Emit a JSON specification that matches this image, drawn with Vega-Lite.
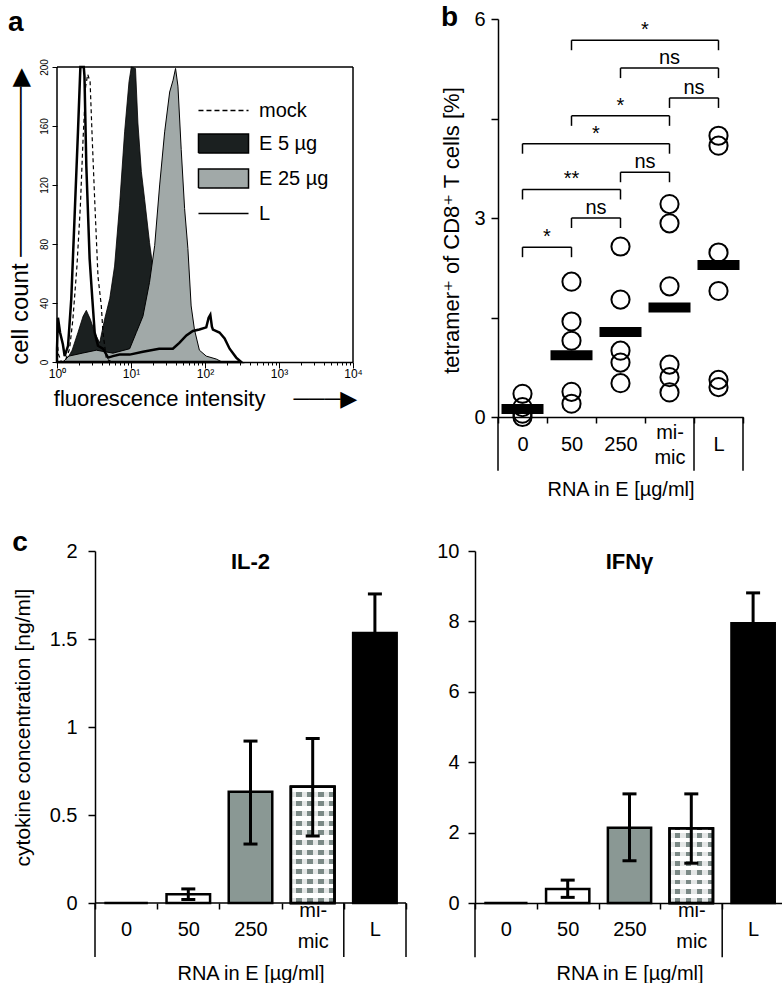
{
"$schema": "https://vega.github.io/schema/vega-lite/v6.json",
"background": "white",
"padding": {"left": 8, "top": 4, "right": 0, "bottom": 0},
"config": {
  "font": "Liberation Sans",
  "view": {"stroke": null},
  "axis": {"grid": false, "domainColor": "black", "tickColor": "black", "labelColor": "black", "titleColor": "black", "domainWidth": 1.5, "tickWidth": 1.5, "titleFontWeight": "normal", "labelFont": "Liberation Sans", "titleFont": "Liberation Sans, DejaVu Sans"},
  "title": {"color": "black", "font": "Liberation Sans"}
},
"datasets": {
  "hist": [
    {"s": "E 5 µg", "v": 1.3, "c": 0}, {"s": "E 5 µg", "v": 1.6, "c": 8}, {"s": "E 5 µg", "v": 1.92, "c": 20}, {"s": "E 5 µg", "v": 2.25, "c": 31}, {"s": "E 5 µg", "v": 2.49, "c": 35}, {"s": "E 5 µg", "v": 2.82, "c": 29}, {"s": "E 5 µg", "v": 3.23, "c": 20}, {"s": "E 5 µg", "v": 3.77, "c": 13}, {"s": "E 5 µg", "v": 4.4, "c": 29}, {"s": "E 5 µg", "v": 5.16, "c": 43}, {"s": "E 5 µg", "v": 6.0, "c": 65}, {"s": "E 5 µg", "v": 7.0, "c": 106}, {"s": "E 5 µg", "v": 8.2, "c": 156}, {"s": "E 5 µg", "v": 9.4, "c": 190}, {"s": "E 5 µg", "v": 10.1, "c": 200}, {"s": "E 5 µg", "v": 11.5, "c": 199}, {"s": "E 5 µg", "v": 12.4, "c": 162}, {"s": "E 5 µg", "v": 13.8, "c": 129}, {"s": "E 5 µg", "v": 15.3, "c": 110}, {"s": "E 5 µg", "v": 17.8, "c": 81}, {"s": "E 5 µg", "v": 20, "c": 62}, {"s": "E 5 µg", "v": 24, "c": 35}, {"s": "E 5 µg", "v": 28, "c": 15}, {"s": "E 5 µg", "v": 33, "c": 4}, {"s": "E 5 µg", "v": 38, "c": 0},
    {"s": "E 25 µg", "v": 1.2, "c": 0}, {"s": "E 25 µg", "v": 1.45, "c": 4}, {"s": "E 25 µg", "v": 2.2, "c": 6}, {"s": "E 25 µg", "v": 3.4, "c": 8}, {"s": "E 25 µg", "v": 5.7, "c": 6}, {"s": "E 25 µg", "v": 9.6, "c": 9}, {"s": "E 25 µg", "v": 11.8, "c": 20}, {"s": "E 25 µg", "v": 14.5, "c": 31}, {"s": "E 25 µg", "v": 17.8, "c": 54}, {"s": "E 25 µg", "v": 20.9, "c": 79}, {"s": "E 25 µg", "v": 24.4, "c": 120}, {"s": "E 25 µg", "v": 28.5, "c": 156}, {"s": "E 25 µg", "v": 33.3, "c": 183}, {"s": "E 25 µg", "v": 37, "c": 191}, {"s": "E 25 µg", "v": 40, "c": 199}, {"s": "E 25 µg", "v": 43.1, "c": 187}, {"s": "E 25 µg", "v": 47.7, "c": 144}, {"s": "E 25 µg", "v": 53, "c": 104}, {"s": "E 25 µg", "v": 58.7, "c": 77}, {"s": "E 25 µg", "v": 65, "c": 38}, {"s": "E 25 µg", "v": 72, "c": 22}, {"s": "E 25 µg", "v": 84, "c": 8}, {"s": "E 25 µg", "v": 104, "c": 4}, {"s": "E 25 µg", "v": 142, "c": 2}, {"s": "E 25 µg", "v": 170, "c": 0},
    {"s": "mock", "v": 1, "c": 15}, {"s": "mock", "v": 1.05, "c": 5}, {"s": "mock", "v": 1.15, "c": 0}, {"s": "mock", "v": 1.3, "c": 1}, {"s": "mock", "v": 1.48, "c": 9}, {"s": "mock", "v": 1.64, "c": 29}, {"s": "mock", "v": 1.86, "c": 65}, {"s": "mock", "v": 2.07, "c": 106}, {"s": "mock", "v": 2.25, "c": 151}, {"s": "mock", "v": 2.44, "c": 187}, {"s": "mock", "v": 2.6, "c": 195}, {"s": "mock", "v": 2.8, "c": 190}, {"s": "mock", "v": 3.0, "c": 150}, {"s": "mock", "v": 3.23, "c": 110}, {"s": "mock", "v": 3.58, "c": 58}, {"s": "mock", "v": 3.97, "c": 38}, {"s": "mock", "v": 4.18, "c": 20}, {"s": "mock", "v": 4.65, "c": 2}, {"s": "mock", "v": 5.5, "c": 0},
    {"s": "L", "v": 1, "c": 9}, {"s": "L", "v": 1.03, "c": 30}, {"s": "L", "v": 1.1, "c": 20}, {"s": "L", "v": 1.2, "c": 12}, {"s": "L", "v": 1.27, "c": 4}, {"s": "L", "v": 1.41, "c": 11}, {"s": "L", "v": 1.56, "c": 43}, {"s": "L", "v": 1.73, "c": 99}, {"s": "L", "v": 1.92, "c": 156}, {"s": "L", "v": 2.07, "c": 200}, {"s": "L", "v": 2.3, "c": 200}, {"s": "L", "v": 2.35, "c": 194}, {"s": "L", "v": 2.49, "c": 133}, {"s": "L", "v": 2.76, "c": 70}, {"s": "L", "v": 3.0, "c": 43}, {"s": "L", "v": 3.23, "c": 20}, {"s": "L", "v": 3.58, "c": 11}, {"s": "L", "v": 4.18, "c": 9}, {"s": "L", "v": 4.9, "c": 3}, {"s": "L", "v": 5.7, "c": 4}, {"s": "L", "v": 7, "c": 5}, {"s": "L", "v": 9.6, "c": 5}, {"s": "L", "v": 14.5, "c": 7}, {"s": "L", "v": 24, "c": 9}, {"s": "L", "v": 36.8, "c": 9}, {"s": "L", "v": 45, "c": 13}, {"s": "L", "v": 56, "c": 18}, {"s": "L", "v": 68.6, "c": 21}, {"s": "L", "v": 84, "c": 22}, {"s": "L", "v": 104, "c": 23.5}, {"s": "L", "v": 112, "c": 30}, {"s": "L", "v": 118, "c": 32}, {"s": "L", "v": 124, "c": 24}, {"s": "L", "v": 128, "c": 22}, {"s": "L", "v": 157, "c": 20}, {"s": "L", "v": 184, "c": 16}, {"s": "L", "v": 215, "c": 9}, {"s": "L", "v": 264, "c": 3}, {"s": "L", "v": 309, "c": 0}
  ],
  "pts": [
    {"g": "0", "v": 0.35}, {"g": "0", "v": 0.15}, {"g": "0", "v": 0.05}, {"g": "0", "v": 0.0},
    {"g": "50", "v": 2.04}, {"g": "50", "v": 1.44}, {"g": "50", "v": 1.15}, {"g": "50", "v": 0.38}, {"g": "50", "v": 0.2},
    {"g": "250", "v": 2.57}, {"g": "250", "v": 1.77}, {"g": "250", "v": 1.0}, {"g": "250", "v": 0.82}, {"g": "250", "v": 0.51},
    {"g": "mimic", "v": 3.21}, {"g": "mimic", "v": 2.92}, {"g": "mimic", "v": 1.97}, {"g": "mimic", "v": 0.79}, {"g": "mimic", "v": 0.6}, {"g": "mimic", "v": 0.37},
    {"g": "L", "v": 4.24}, {"g": "L", "v": 4.09}, {"g": "L", "v": 2.48}, {"g": "L", "v": 1.9}, {"g": "L", "v": 0.56}, {"g": "L", "v": 0.45}
  ],
  "means": [
    {"g": "0", "v": 0.12}, {"g": "50", "v": 0.93}, {"g": "250", "v": 1.28}, {"g": "mimic", "v": 1.65}, {"g": "L", "v": 2.29}
  ],
  "brk": [
    {"from": "0", "to": "50", "level": 2.56, "label": "*", "mid": "50", "edge": true},
    {"from": "50", "to": "250", "level": 3.0, "label": "ns", "mid": "250", "edge": true},
    {"from": "0", "to": "250", "level": 3.43, "label": "**", "mid": "50", "edge": false},
    {"from": "250", "to": "mimic", "level": 3.69, "label": "ns", "mid": "mimic", "edge": true},
    {"from": "0", "to": "mimic", "level": 4.12, "label": "*", "mid": "250", "edge": true},
    {"from": "50", "to": "mimic", "level": 4.54, "label": "*", "mid": "250", "edge": false},
    {"from": "mimic", "to": "L", "level": 4.81, "label": "ns", "mid": "L", "edge": true},
    {"from": "250", "to": "L", "level": 5.26, "label": "ns", "mid": "mimic", "edge": false},
    {"from": "50", "to": "L", "level": 5.68, "label": "*", "mid": "mimic", "edge": true}
  ],
  "seps": [
    {"g": "0", "edge": "start"}, {"g": "L", "edge": "start"}, {"g": "L", "edge": "end"}
  ],
  "base": [
    {"a": "0", "b": "L"}
  ],
  "cyto": [
    {"p": "IL-2", "g": "0", "v": 0, "lo": 0, "hi": 0},
    {"p": "IL-2", "g": "50", "v": 0.05, "lo": 0.02, "hi": 0.08},
    {"p": "IL-2", "g": "250", "v": 0.632, "lo": 0.335, "hi": 0.92},
    {"p": "IL-2", "g": "mimic", "v": 0.66, "lo": 0.38, "hi": 0.935},
    {"p": "IL-2", "g": "L", "v": 1.534, "lo": 1.31, "hi": 1.756},
    {"p": "IFNγ", "g": "0", "v": 0, "lo": 0, "hi": 0},
    {"p": "IFNγ", "g": "50", "v": 0.4, "lo": 0.16, "hi": 0.65},
    {"p": "IFNγ", "g": "250", "v": 2.14, "lo": 1.2, "hi": 3.1},
    {"p": "IFNγ", "g": "mimic", "v": 2.12, "lo": 1.13, "hi": 3.1},
    {"p": "IFNγ", "g": "L", "v": 7.95, "lo": 7.1, "hi": 8.81}
  ]
},
"resolve": {"scale": {"fill": "independent"}},
"spacing": 30,
"vconcat": [
  {
    "spacing": 77,
    "resolve": {"scale": {"fill": "independent"}},
    "hconcat": [
      {
        "width": 296, "height": 343,
        "title": {"text": "a", "anchor": "start", "frame": "bounds", "fontSize": 28, "fontWeight": "bold", "offset": -18},
        "layer": [
          {
            "data": {"name": "hist"},
            "encoding": {
              "x": {"field": "v", "type": "quantitative", "scale": {"type": "log", "domain": [1, 10000]},
                "axis": {"values": [1,2,3,4,5,6,7,8,9,10,20,30,40,50,60,70,80,90,100,200,300,400,500,600,700,800,900,1000,2000,3000,4000,5000,6000,7000,8000,9000,10000],
                  "labelExpr": "datum.value == 1 ? '10⁰' : datum.value == 10 ? '10¹' : datum.value == 100 ? '10²' : datum.value == 1000 ? '10³' : datum.value == 10000 ? '10⁴' : ''",
                  "labelFontSize": 12, "labelPadding": 0, "labelFlush": false, "labelOverlap": false, "labelBound": false,
                  "tickSize": {"condition": {"test": "indexof([1,10,100,1000,10000], datum.value) >= 0", "value": 6}, "value": 3},
                  "domain": true, "tickWidth": 1,
                  "title": "fluorescence intensity\u2003 ───▶", "titleFontSize": 22, "titlePadding": 9}},
              "y": {"field": "c", "type": "quantitative", "scale": {"domain": [0, 232.5], "nice": false},
                "axis": {"values": [0,10,20,30,40,50,60,70,80,90,100,110,120,130,140,150,160,170,180,190,200],
                  "labelExpr": "datum.value % 40 == 0 ? datum.label : ''",
                  "labelAngle": 270, "labelAlign": "center", "labelBaseline": "bottom", "labelFontSize": 10, "labelPadding": 3,
                  "tickSize": {"condition": {"test": "datum.value % 40 == 0", "value": 5}, "value": 3},
                  "domain": false, "tickWidth": 1,
                  "title": "cell count ──────────▶", "titleFontSize": 24, "titlePadding": 7, "titleY": 197}},
              "fill": {"field": "s", "type": "nominal",
                "scale": {"domain": ["mock", "E 5 µg", "E 25 µg", "L"], "range": ["transparent", "#1b2020", "#a1a9a8", "transparent"]},
                "legend": {"title": null, "orient": "none", "legendX": 148, "legendY": 73, "padding": 0, "symbolSize": 1225, "labelFontSize": 20, "labelOffset": 17, "rowPadding": 4, "labelColor": "black", "labelFont": "Liberation Sans", "symbolStrokeColor": "black", "symbolStrokeWidth": 1.5,
                  "encode": {"symbols": {"update": {"shape": {"signal": "datum.value == 'mock' || datum.value == 'L' ? 'M-1.43,0H1.43' : 'M-1.43,-0.54H1.43V0.54H-1.43Z'"}, "stroke": {"value": "black"}, "strokeWidth": {"value": 1.5}, "strokeDash": {"signal": "datum.value == 'mock' ? [5, 3] : [1, 0]"}}}}}}
            },
            "layer": [
              {"transform": [{"filter": "datum.s == 'E 5 µg'"}], "mark": {"type": "area", "stroke": "black", "strokeWidth": 0.8, "fillOpacity": 1}},
              {"transform": [{"filter": "datum.s == 'E 25 µg'"}], "mark": {"type": "area", "stroke": "black", "strokeWidth": 1, "fillOpacity": 1}},
              {"transform": [{"filter": "datum.s == 'mock'"}], "mark": {"type": "area", "stroke": "black", "strokeWidth": 1.2, "strokeDash": [4, 3]}},
              {"transform": [{"filter": "datum.s == 'L'"}], "mark": {"type": "area", "stroke": "black", "strokeWidth": 2.5}}
            ]
          },
          {
            "data": {"values": [{}]},
            "mark": {"type": "rule", "color": "black", "strokeWidth": 1.5},
            "encoding": {
              "x": {"datum": 1, "type": "quantitative", "scale": {"type": "log", "domain": [1, 10000]}},
              "x2": {"datum": 10000},
              "y": {"datum": 200, "type": "quantitative", "scale": {"domain": [0, 232.5], "nice": false}}
            }
          },
          {
            "data": {"values": [{}]},
            "mark": {"type": "rule", "color": "black", "strokeWidth": 1.5},
            "encoding": {
              "x": {"datum": 1, "type": "quantitative", "scale": {"type": "log", "domain": [1, 10000]}},
              "y": {"datum": 0, "type": "quantitative", "scale": {"domain": [0, 232.5], "nice": false}},
              "y2": {"datum": 200}
            }
          },
          {
            "data": {"values": [{}]},
            "mark": {"type": "rule", "color": "black", "strokeWidth": 1.5},
            "encoding": {
              "x": {"datum": 10000, "type": "quantitative", "scale": {"type": "log", "domain": [1, 10000]}},
              "y": {"datum": 0, "type": "quantitative", "scale": {"domain": [0, 232.5], "nice": false}},
              "y2": {"datum": 200}
            }
          }
        ]
      },
      {
        "width": 245, "height": 398,
        "title": {"text": "b", "anchor": "start", "frame": "bounds", "fontSize": 28, "fontWeight": "bold", "offset": -23},
        "layer": [
          {
            "data": {"name": "pts"},
            "mark": {"type": "point", "filled": false, "stroke": "black", "strokeWidth": 2, "size": 330, "opacity": 1},
            "encoding": {
              "x": {"field": "g", "type": "nominal", "scale": {"domain": ["0", "50", "250", "mimic", "L"], "paddingInner": 0, "paddingOuter": 0},
                "axis": {"title": "RNA in E [µg/ml]", "titleFontSize": 20, "titlePadding": 12, "labelFontSize": 20, "labelAngle": 0, "labelOverlap": false,
                  "labelExpr": "datum.value == 'mimic' ? ['mi-', 'mic'] : datum.value", "labelBaseline": "middle",
                  "labelPadding": {"condition": {"test": "datum.value == 'mimic'", "value": 9}, "value": 21}, "labelLineHeight": 25,
                  "tickBand": "extent", "tickSize": 6}},
              "y": {"field": "v", "type": "quantitative", "scale": {"domain": [0, 6], "nice": false},
                "axis": {"values": [0, 1.5, 3, 4.5, 6], "format": "~g", "labelExpr": "datum.value % 3 == 0 ? datum.label : ''",
                  "title": "tetramer⁺ of CD8⁺ T cells [%]", "titleFontSize": 22, "titlePadding": 10, "titleY": 211, "labelFontSize": 20, "labelPadding": 6, "tickSize": 7}}
            }
          },
          {
            "data": {"name": "means"},
            "mark": {"type": "tick", "color": "black", "size": 42, "thickness": 10, "opacity": 1},
            "encoding": {
              "x": {"field": "g", "type": "nominal", "scale": {"domain": ["0", "50", "250", "mimic", "L"], "paddingInner": 0, "paddingOuter": 0}},
              "y": {"field": "v", "type": "quantitative", "scale": {"domain": [0, 6], "nice": false}}
            }
          },
          {
            "data": {"name": "brk"},
            "mark": {"type": "rule", "color": "black", "strokeWidth": 1.5},
            "encoding": {
              "x": {"field": "from", "type": "nominal", "bandPosition": 0.5, "scale": {"domain": ["0", "50", "250", "mimic", "L"], "paddingInner": 0, "paddingOuter": 0}},
              "x2": {"field": "to", "bandPosition": 0.5},
              "y": {"field": "level", "type": "quantitative", "scale": {"domain": [0, 6], "nice": false}}
            }
          },
          {
            "data": {"name": "brk"},
            "transform": [{"fold": ["from", "to"], "as": ["k", "g"]}],
            "mark": {"type": "point", "shape": "M0,0L0,1", "size": 400, "filled": false, "stroke": "black", "strokeWidth": 1.5, "opacity": 1},
            "encoding": {
              "x": {"field": "g", "type": "nominal", "scale": {"domain": ["0", "50", "250", "mimic", "L"], "paddingInner": 0, "paddingOuter": 0}},
              "y": {"field": "level", "type": "quantitative", "scale": {"domain": [0, 6], "nice": false}}
            }
          },
          {
            "data": {"name": "brk"},
            "transform": [{"filter": "datum.edge == false"}],
            "mark": {"type": "text", "fontSize": 20, "baseline": "alphabetic", "dy": -4, "color": "black"},
            "encoding": {
              "x": {"field": "mid", "type": "nominal", "bandPosition": 0.5, "scale": {"domain": ["0", "50", "250", "mimic", "L"], "paddingInner": 0, "paddingOuter": 0}},
              "y": {"field": "level", "type": "quantitative", "scale": {"domain": [0, 6], "nice": false}},
              "text": {"field": "label"}
            }
          },
          {
            "data": {"name": "brk"},
            "transform": [{"filter": "datum.edge == true"}],
            "mark": {"type": "text", "fontSize": 20, "baseline": "alphabetic", "dy": -4, "color": "black"},
            "encoding": {
              "x": {"field": "mid", "type": "nominal", "bandPosition": 0, "scale": {"domain": ["0", "50", "250", "mimic", "L"], "paddingInner": 0, "paddingOuter": 0}},
              "y": {"field": "level", "type": "quantitative", "scale": {"domain": [0, 6], "nice": false}},
              "text": {"field": "label"}
            }
          },
          {
            "data": {"name": "seps"},
            "transform": [{"filter": "datum.edge == 'start'"}],
            "mark": {"type": "rule", "color": "black", "strokeWidth": 1.5},
            "encoding": {
              "x": {"field": "g", "type": "nominal", "bandPosition": 0, "scale": {"domain": ["0", "50", "250", "mimic", "L"], "paddingInner": 0, "paddingOuter": 0}},
              "y": {"datum": 0, "type": "quantitative", "scale": {"domain": [0, 6], "nice": false}},
              "y2": {"datum": -0.81}
            }
          },
          {
            "data": {"name": "seps"},
            "transform": [{"filter": "datum.edge == 'end'"}],
            "mark": {"type": "rule", "color": "black", "strokeWidth": 1.5},
            "encoding": {
              "x": {"field": "g", "type": "nominal", "bandPosition": 1, "scale": {"domain": ["0", "50", "250", "mimic", "L"], "paddingInner": 0, "paddingOuter": 0}},
              "y": {"datum": 0, "type": "quantitative", "scale": {"domain": [0, 6], "nice": false}},
              "y2": {"datum": -0.81}
            }
          }
        ]
      }
    ]
  },
  {
    "title": {"text": "c", "anchor": "start", "fontSize": 28, "fontWeight": "bold", "offset": -16},
    "spacing": 29,
    "resolve": {"scale": {"fill": "independent"}},
    "hconcat": [
      {
        "width": 349, "height": 352,
        "title": {"text": "IL-2", "anchor": "middle", "frame": "group", "fontSize": 22, "fontWeight": "bold", "offset": -33, "dx": 19},
        "data": {"name": "cyto"},
        "transform": [{"filter": "datum.p == 'IL-2'"}],
        "layer": [
          {
            "mark": {"type": "bar", "stroke": "black", "strokeWidth": 2.5, "width": {"band": 0.7}},
            "encoding": {
              "x": {"field": "g", "type": "nominal", "scale": {"domain": ["0", "50", "250", "mimic", "L"], "paddingInner": 0, "paddingOuter": 0.3055, "align": 1},
                "axis": {"title": "RNA in E [µg/ml]", "titleFontSize": 20, "titlePadding": 12, "titleX": 193.5, "labelFontSize": 20, "labelAngle": 0, "labelOverlap": false,
                  "labelExpr": "datum.value == 'mimic' ? ['mi-', 'mic'] : datum.value", "labelBaseline": "middle",
                  "labelPadding": {"condition": {"test": "datum.value == 'mimic'", "value": 1}, "value": 20}, "labelLineHeight": 31,
                  "tickBand": "extent", "tickSize": 6, "domain": false}},
              "y": {"field": "v", "type": "quantitative", "scale": {"domain": [0, 2], "nice": false},
                "axis": {"values": [0, 0.5, 1, 1.5, 2], "format": "~g", "offset": -38, "title": "cytokine concentration [ng/ml]", "titleFontSize": 21, "titlePadding": 16, "labelFontSize": 20, "labelPadding": 11, "tickSize": 7}},
              "fill": {"field": "g", "type": "nominal", "scale": {"domain": ["0", "50", "250", "mimic", "L"], "range": ["white", "white", "#8a9894", "white", "black"]}, "legend": null}
            }
          },
          {
            "transform": [{"filter": "datum.g == 'mimic'"}],
            "mark": {"type": "bar", "stroke": "black", "strokeWidth": 2.5, "width": {"band": 0.7},
              "fill": {"gradient": "linear", "x1": 0, "y1": 0, "x2": 0, "y2": 1, "stops": [
                {"offset": 0, "color": "#ffffff"}, {"offset": 0.0417, "color": "#ffffff"}, {"offset": 0.0417, "color": "#7b8986"}, {"offset": 0.0833, "color": "#7b8986"},
                {"offset": 0.0833, "color": "#ffffff"}, {"offset": 0.125, "color": "#ffffff"}, {"offset": 0.125, "color": "#7b8986"}, {"offset": 0.1667, "color": "#7b8986"},
                {"offset": 0.1667, "color": "#ffffff"}, {"offset": 0.2083, "color": "#ffffff"}, {"offset": 0.2083, "color": "#7b8986"}, {"offset": 0.25, "color": "#7b8986"},
                {"offset": 0.25, "color": "#ffffff"}, {"offset": 0.2917, "color": "#ffffff"}, {"offset": 0.2917, "color": "#7b8986"}, {"offset": 0.3333, "color": "#7b8986"},
                {"offset": 0.3333, "color": "#ffffff"}, {"offset": 0.375, "color": "#ffffff"}, {"offset": 0.375, "color": "#7b8986"}, {"offset": 0.4167, "color": "#7b8986"},
                {"offset": 0.4167, "color": "#ffffff"}, {"offset": 0.4583, "color": "#ffffff"}, {"offset": 0.4583, "color": "#7b8986"}, {"offset": 0.5, "color": "#7b8986"},
                {"offset": 0.5, "color": "#ffffff"}, {"offset": 0.5417, "color": "#ffffff"}, {"offset": 0.5417, "color": "#7b8986"}, {"offset": 0.5833, "color": "#7b8986"},
                {"offset": 0.5833, "color": "#ffffff"}, {"offset": 0.625, "color": "#ffffff"}, {"offset": 0.625, "color": "#7b8986"}, {"offset": 0.6667, "color": "#7b8986"},
                {"offset": 0.6667, "color": "#ffffff"}, {"offset": 0.7083, "color": "#ffffff"}, {"offset": 0.7083, "color": "#7b8986"}, {"offset": 0.75, "color": "#7b8986"},
                {"offset": 0.75, "color": "#ffffff"}, {"offset": 0.7917, "color": "#ffffff"}, {"offset": 0.7917, "color": "#7b8986"}, {"offset": 0.8333, "color": "#7b8986"},
                {"offset": 0.8333, "color": "#ffffff"}, {"offset": 0.875, "color": "#ffffff"}, {"offset": 0.875, "color": "#7b8986"}, {"offset": 0.9167, "color": "#7b8986"},
                {"offset": 0.9167, "color": "#ffffff"}, {"offset": 0.9583, "color": "#ffffff"}, {"offset": 0.9583, "color": "#7b8986"}, {"offset": 1, "color": "#7b8986"}
              ]}},
            "encoding": {
              "x": {"field": "g", "type": "nominal", "scale": {"domain": ["0", "50", "250", "mimic", "L"], "paddingInner": 0, "paddingOuter": 0.3055, "align": 1}},
              "y": {"field": "v", "type": "quantitative", "scale": {"domain": [0, 2], "nice": false}}
            }
          },
          {
            "transform": [{"filter": "datum.g == 'mimic'"}],
            "mark": {"type": "bar", "stroke": "black", "strokeWidth": 2.5, "width": {"band": 0.7},
              "fill": {"gradient": "linear", "x1": 0, "y1": 0, "x2": 1, "y2": 0, "stops": [
                {"offset": 0, "color": "rgba(255,255,255,0.8)"}, {"offset": 0.125, "color": "rgba(255,255,255,0.8)"}, {"offset": 0.125, "color": "rgba(255,255,255,0)"}, {"offset": 0.25, "color": "rgba(255,255,255,0)"},
                {"offset": 0.25, "color": "rgba(255,255,255,0.8)"}, {"offset": 0.375, "color": "rgba(255,255,255,0.8)"}, {"offset": 0.375, "color": "rgba(255,255,255,0)"}, {"offset": 0.5, "color": "rgba(255,255,255,0)"},
                {"offset": 0.5, "color": "rgba(255,255,255,0.8)"}, {"offset": 0.625, "color": "rgba(255,255,255,0.8)"}, {"offset": 0.625, "color": "rgba(255,255,255,0)"}, {"offset": 0.75, "color": "rgba(255,255,255,0)"},
                {"offset": 0.75, "color": "rgba(255,255,255,0.8)"}, {"offset": 0.875, "color": "rgba(255,255,255,0.8)"}, {"offset": 0.875, "color": "rgba(255,255,255,0)"}, {"offset": 1, "color": "rgba(255,255,255,0)"}
              ]}},
            "encoding": {
              "x": {"field": "g", "type": "nominal", "scale": {"domain": ["0", "50", "250", "mimic", "L"], "paddingInner": 0, "paddingOuter": 0.3055, "align": 1}},
              "y": {"field": "v", "type": "quantitative", "scale": {"domain": [0, 2], "nice": false}}
            }
          },
          {
            "transform": [{"filter": "datum.g != '0'"}],
            "mark": {"type": "errorbar", "ticks": {"size": 14, "thickness": 3, "color": "black", "opacity": 1}, "rule": {"strokeWidth": 3, "color": "black"}},
            "encoding": {
              "x": {"field": "g", "type": "nominal", "scale": {"domain": ["0", "50", "250", "mimic", "L"], "paddingInner": 0, "paddingOuter": 0.3055, "align": 1}},
              "y": {"field": "lo", "type": "quantitative", "title": "cytokine concentration [ng/ml]", "scale": {"domain": [0, 2], "nice": false}},
              "y2": {"field": "hi"}
            }
          },
          {
            "data": {"name": "base"},
            "mark": {"type": "rule", "color": "black", "strokeWidth": 1.5},
            "encoding": {
              "x": {"field": "a", "type": "nominal", "bandPosition": 0, "scale": {"domain": ["0", "50", "250", "mimic", "L"], "paddingInner": 0, "paddingOuter": 0.3055, "align": 1}},
              "x2": {"field": "b", "bandPosition": 1},
              "y": {"datum": 0, "type": "quantitative", "scale": {"domain": [0, 2], "nice": false}}
            }
          },
          {
            "data": {"name": "seps"},
            "transform": [{"filter": "datum.edge == 'start'"}],
            "mark": {"type": "rule", "color": "black", "strokeWidth": 1.5},
            "encoding": {
              "x": {"field": "g", "type": "nominal", "bandPosition": 0, "scale": {"domain": ["0", "50", "250", "mimic", "L"], "paddingInner": 0, "paddingOuter": 0.3055, "align": 1}},
              "y": {"datum": 0, "type": "quantitative", "scale": {"domain": [0, 2], "nice": false}},
              "y2": {"datum": -0.307}
            }
          },
          {
            "data": {"name": "seps"},
            "transform": [{"filter": "datum.edge == 'end'"}],
            "mark": {"type": "rule", "color": "black", "strokeWidth": 1.5},
            "encoding": {
              "x": {"field": "g", "type": "nominal", "bandPosition": 1, "scale": {"domain": ["0", "50", "250", "mimic", "L"], "paddingInner": 0, "paddingOuter": 0.3055, "align": 1}},
              "y": {"datum": 0, "type": "quantitative", "scale": {"domain": [0, 2], "nice": false}},
              "y2": {"datum": -0.307}
            }
          }
        ]
      },
      {
        "width": 309, "height": 352,
        "title": {"text": "IFNγ", "anchor": "middle", "frame": "group", "fontSize": 22, "fontWeight": "bold", "offset": -33},
        "data": {"name": "cyto"},
        "transform": [{"filter": "datum.p == 'IFNγ'"}],
        "layer": [
          {
            "mark": {"type": "bar", "stroke": "black", "strokeWidth": 2.5, "width": {"band": 0.7}},
            "encoding": {
              "x": {"field": "g", "type": "nominal", "scale": {"domain": ["0", "50", "250", "mimic", "L"], "paddingInner": 0, "paddingOuter": 0},
                "axis": {"title": "RNA in E [µg/ml]", "titleFontSize": 20, "titlePadding": 12, "labelFontSize": 20, "labelAngle": 0, "labelOverlap": false,
                  "labelExpr": "datum.value == 'mimic' ? ['mi-', 'mic'] : datum.value", "labelBaseline": "middle",
                  "labelPadding": {"condition": {"test": "datum.value == 'mimic'", "value": 1}, "value": 20}, "labelLineHeight": 31,
                  "tickBand": "extent", "tickSize": 6}},
              "y": {"field": "v", "type": "quantitative", "scale": {"domain": [0, 10], "nice": false},
                "axis": {"values": [0, 2, 4, 6, 8, 10], "format": "d", "title": null, "labelFontSize": 20, "labelPadding": 9, "tickSize": 7}},
              "fill": {"field": "g", "type": "nominal", "scale": {"domain": ["0", "50", "250", "mimic", "L"], "range": ["white", "white", "#8a9894", "white", "black"]}, "legend": null}
            }
          },
          {
            "transform": [{"filter": "datum.g == 'mimic'"}],
            "mark": {"type": "bar", "stroke": "black", "strokeWidth": 2.5, "width": {"band": 0.7},
              "fill": {"gradient": "linear", "x1": 0, "y1": 0, "x2": 0, "y2": 1, "stops": [
                {"offset": 0, "color": "#ffffff"}, {"offset": 0.0625, "color": "#ffffff"}, {"offset": 0.0625, "color": "#7b8986"}, {"offset": 0.125, "color": "#7b8986"},
                {"offset": 0.125, "color": "#ffffff"}, {"offset": 0.1875, "color": "#ffffff"}, {"offset": 0.1875, "color": "#7b8986"}, {"offset": 0.25, "color": "#7b8986"},
                {"offset": 0.25, "color": "#ffffff"}, {"offset": 0.3125, "color": "#ffffff"}, {"offset": 0.3125, "color": "#7b8986"}, {"offset": 0.375, "color": "#7b8986"},
                {"offset": 0.375, "color": "#ffffff"}, {"offset": 0.4375, "color": "#ffffff"}, {"offset": 0.4375, "color": "#7b8986"}, {"offset": 0.5, "color": "#7b8986"},
                {"offset": 0.5, "color": "#ffffff"}, {"offset": 0.5625, "color": "#ffffff"}, {"offset": 0.5625, "color": "#7b8986"}, {"offset": 0.625, "color": "#7b8986"},
                {"offset": 0.625, "color": "#ffffff"}, {"offset": 0.6875, "color": "#ffffff"}, {"offset": 0.6875, "color": "#7b8986"}, {"offset": 0.75, "color": "#7b8986"},
                {"offset": 0.75, "color": "#ffffff"}, {"offset": 0.8125, "color": "#ffffff"}, {"offset": 0.8125, "color": "#7b8986"}, {"offset": 0.875, "color": "#7b8986"},
                {"offset": 0.875, "color": "#ffffff"}, {"offset": 0.9375, "color": "#ffffff"}, {"offset": 0.9375, "color": "#7b8986"}, {"offset": 1, "color": "#7b8986"}
              ]}},
            "encoding": {
              "x": {"field": "g", "type": "nominal", "scale": {"domain": ["0", "50", "250", "mimic", "L"], "paddingInner": 0, "paddingOuter": 0}},
              "y": {"field": "v", "type": "quantitative", "scale": {"domain": [0, 10], "nice": false}}
            }
          },
          {
            "transform": [{"filter": "datum.g == 'mimic'"}],
            "mark": {"type": "bar", "stroke": "black", "strokeWidth": 2.5, "width": {"band": 0.7},
              "fill": {"gradient": "linear", "x1": 0, "y1": 0, "x2": 1, "y2": 0, "stops": [
                {"offset": 0, "color": "rgba(255,255,255,0.8)"}, {"offset": 0.125, "color": "rgba(255,255,255,0.8)"}, {"offset": 0.125, "color": "rgba(255,255,255,0)"}, {"offset": 0.25, "color": "rgba(255,255,255,0)"},
                {"offset": 0.25, "color": "rgba(255,255,255,0.8)"}, {"offset": 0.375, "color": "rgba(255,255,255,0.8)"}, {"offset": 0.375, "color": "rgba(255,255,255,0)"}, {"offset": 0.5, "color": "rgba(255,255,255,0)"},
                {"offset": 0.5, "color": "rgba(255,255,255,0.8)"}, {"offset": 0.625, "color": "rgba(255,255,255,0.8)"}, {"offset": 0.625, "color": "rgba(255,255,255,0)"}, {"offset": 0.75, "color": "rgba(255,255,255,0)"},
                {"offset": 0.75, "color": "rgba(255,255,255,0.8)"}, {"offset": 0.875, "color": "rgba(255,255,255,0.8)"}, {"offset": 0.875, "color": "rgba(255,255,255,0)"}, {"offset": 1, "color": "rgba(255,255,255,0)"}
              ]}},
            "encoding": {
              "x": {"field": "g", "type": "nominal", "scale": {"domain": ["0", "50", "250", "mimic", "L"], "paddingInner": 0, "paddingOuter": 0}},
              "y": {"field": "v", "type": "quantitative", "scale": {"domain": [0, 10], "nice": false}}
            }
          },
          {
            "transform": [{"filter": "datum.g != '0'"}],
            "mark": {"type": "errorbar", "ticks": {"size": 14, "thickness": 3, "color": "black", "opacity": 1}, "rule": {"strokeWidth": 3, "color": "black"}},
            "encoding": {
              "x": {"field": "g", "type": "nominal", "scale": {"domain": ["0", "50", "250", "mimic", "L"], "paddingInner": 0, "paddingOuter": 0}},
              "y": {"field": "lo", "type": "quantitative", "scale": {"domain": [0, 10], "nice": false}},
              "y2": {"field": "hi"}
            }
          },
          {
            "data": {"name": "seps"},
            "transform": [{"filter": "datum.edge == 'start'"}],
            "mark": {"type": "rule", "color": "black", "strokeWidth": 1.5},
            "encoding": {
              "x": {"field": "g", "type": "nominal", "bandPosition": 0, "scale": {"domain": ["0", "50", "250", "mimic", "L"], "paddingInner": 0, "paddingOuter": 0}},
              "y": {"datum": 0, "type": "quantitative", "scale": {"domain": [0, 10], "nice": false}},
              "y2": {"datum": -1.54}
            }
          },
          {
            "data": {"name": "seps"},
            "transform": [{"filter": "datum.edge == 'end'"}],
            "mark": {"type": "rule", "color": "black", "strokeWidth": 1.5},
            "encoding": {
              "x": {"field": "g", "type": "nominal", "bandPosition": 1, "scale": {"domain": ["0", "50", "250", "mimic", "L"], "paddingInner": 0, "paddingOuter": 0}},
              "y": {"datum": 0, "type": "quantitative", "scale": {"domain": [0, 10], "nice": false}},
              "y2": {"datum": -1.54}
            }
          }
        ]
      }
    ]
  }
]
}
